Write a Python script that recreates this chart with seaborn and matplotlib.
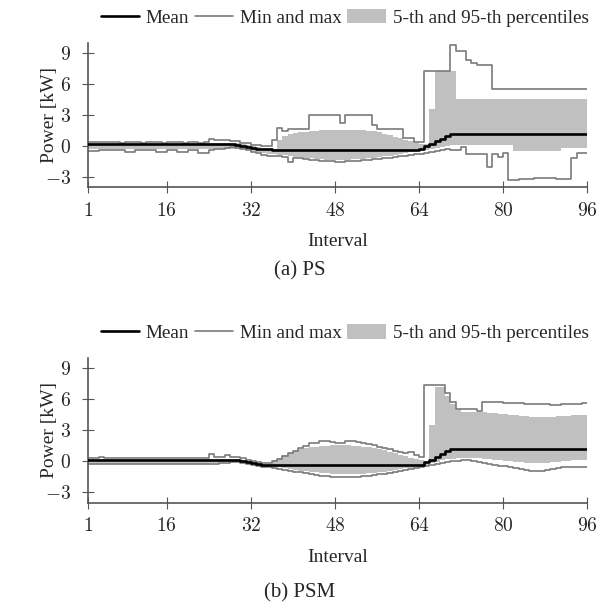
import numpy as np
import matplotlib
matplotlib.use("Agg")
import matplotlib.pyplot as plt
from matplotlib.ticker import FuncFormatter
import seaborn as sns

# --------------------------------------------------
# DATA (interval 1..96)
# --------------------------------------------------

intervals = np.arange(1, 97)

# (a) PS
ps_mean = (
    [0.15] * 28
    + [0.10, 0.02, -0.08, -0.17, -0.25, -0.30, -0.33]
    + [-0.35] * 28
    + [-0.30, -0.05, 0.20, 0.45, 0.70, 0.95, 1.15]
    + [1.20] * 26
)
ps_max = (
    [0.35, 0.40, 0.40, 0.35, 0.35, 0.35, 0.30, 0.35, 0.35, 0.35, 0.30, 0.35,
     0.35, 0.35, 0.30, 0.35, 0.35, 0.35, 0.30, 0.35, 0.35, 0.30, 0.35]
    + [0.70, 0.55, 0.55, 0.62, 0.45, 0.45, 0.30, 0.25, 0.10, 0.05, -0.05, -0.05]
    + [0.55, 1.75, 1.45, 1.60, 1.60, 1.60, 1.60]
    + [3.00] * 6 + [2.25] + [2.95] * 5 + [2.05] + [1.60] * 5
    + [0.75, 0.75, 0.40, 0.40]
    + [7.30] * 5
    + [9.80, 9.20, 9.20, 8.30, 8.00, 7.80, 7.80, 7.80]
    + [5.50] * 19
)
ps_min = (
    [-0.45, -0.45, -0.40, -0.40, -0.40, -0.40, -0.40, -0.55, -0.55, -0.40,
     -0.40, -0.40, -0.40, -0.60, -0.60, -0.40, -0.40, -0.55, -0.55, -0.40,
     -0.40, -0.65, -0.65]
    + [-0.35, -0.30, -0.25, -0.20, -0.15, -0.20, -0.30, -0.40, -0.55, -0.70,
       -0.85, -0.95]
    + [-0.95, -1.00, -1.05, -1.55, -1.15, -1.20, -1.30, -1.35, -1.40, -1.45,
       -1.50, -1.50, -1.55, -1.55, -1.50, -1.50, -1.45, -1.40, -1.35, -1.30,
       -1.25, -1.20, -1.15, -1.10, -1.00, -0.95, -0.90, -0.80, -0.75, -0.70,
       -0.60, -0.50, -0.40, -0.30, -0.35, -0.35, -0.10]
    + [-0.80, -0.80, -0.80, -0.80, -2.00, -0.75, -1.05, -0.70]
    + [-3.30, -3.30, -3.25, -3.20, -3.20, -3.15, -3.10, -3.10, -3.15, -3.20,
       -3.20, -3.25, -1.20, -0.65, -0.65, -0.65]
)
ps_p95 = (
    [0.30] * 28
    + [0.25, 0.15, 0.05, -0.05, -0.12, -0.18, -0.22, -0.25]
    + [0.55, 1.00, 1.15, 1.25, 1.30, 1.35, 1.40, 1.45, 1.50, 1.50,
       1.50, 1.50, 1.50, 1.55, 1.55, 1.55, 1.50, 1.45, 1.40, 1.30,
       1.20, 1.05, 0.90, 0.75, 0.60, 0.45, 0.30, 0.15, 0.20, 3.60]
    + [7.30] * 4
    + [4.50] * 26
)
ps_p5 = (
    [-0.25] * 28
    + [-0.20, -0.25, -0.35, -0.45, -0.55, -0.65, -0.75, -0.80, -0.85, -0.90,
       -1.00, -1.05, -1.10, -1.15, -1.20, -1.25, -1.30, -1.35, -1.35, -1.35,
       -1.35, -1.35, -1.30, -1.30, -1.25, -1.20, -1.15, -1.10, -1.00, -0.95,
       -0.90, -0.80, -0.70, -0.60, -0.50, -0.45, -0.40, -0.30, -0.20, -0.10,
       0.00, 0.05]
    + [0.10] * 11
    + [-0.45] * 9
    + [-0.20] * 6
)

# (b) PSM
psm_mean = (
    [0.13] * 28
    + [0.08, 0.00, -0.10, -0.20, -0.28, -0.34, -0.38]
    + [-0.40] * 28
    + [-0.35, -0.10, 0.15, 0.45, 0.70, 0.95, 1.15]
    + [1.20] * 26
)
psm_max = (
    [0.30, 0.35, 0.38, 0.35] + [0.30] * 19
    + [0.68, 0.45, 0.45, 0.58, 0.40, 0.40, 0.30, 0.15, 0.00, -0.10, -0.15, -0.15]
    + [0.00, 0.20, 0.50, 0.77, 1.03, 1.32, 1.50, 1.80, 1.80, 1.97,
       1.97, 1.85, 1.80, 1.80, 2.00, 2.00, 1.90, 1.75, 1.65, 1.55,
       1.40, 1.26, 1.15, 1.00, 0.85, 0.77, 0.87, 0.60, 0.45]
    + [7.40] * 4
    + [6.60, 5.70, 5.10, 5.10, 5.10, 5.10, 4.90]
    + [5.75, 5.75, 5.70, 5.70, 5.65, 5.65, 5.60, 5.60, 5.55, 5.55,
       5.50, 5.50, 5.50, 5.45, 5.45, 5.50, 5.50, 5.55, 5.55, 5.60, 5.60]
)
psm_min = (
    [-0.30] * 23
    + [-0.28, -0.25, -0.20, -0.15, -0.10, -0.10, -0.15, -0.25, -0.35, -0.45,
       -0.55, -0.60]
    + [-0.70, -0.78, -0.85, -0.90, -1.00, -1.08, -1.15, -1.22, -1.30, -1.40,
       -1.45, -1.50, -1.55, -1.55, -1.55, -1.50, -1.48, -1.45, -1.40, -1.35,
       -1.28, -1.22, -1.10, -1.00, -0.92, -0.84, -0.75, -0.65, -0.55, -0.45,
       -0.35, -0.25, -0.15, -0.05, 0.00, 0.05, 0.10, 0.10, 0.05, -0.05,
       -0.15, -0.25, -0.35, -0.45, -0.50, -0.55, -0.65, -0.75, -0.85, -0.90,
       -0.95, -0.90, -0.85, -0.80, -0.70, -0.60, -0.55, -0.52, -0.52, -0.52,
       -0.52]
)
psm_p95 = (
    [0.23] * 28
    + [0.20, 0.10, 0.00, -0.10, -0.20, -0.25, -0.30]
    + [0.13, 0.35, 0.60, 0.82, 1.03, 1.18, 1.30, 1.38, 1.42, 1.48,
       1.52, 1.55, 1.58, 1.58, 1.55, 1.52, 1.48, 1.42, 1.35, 1.25,
       1.15, 1.05, 0.90, 0.75, 0.60, 0.50, 0.35, 0.20, 0.10, 0.05, 3.50]
    + [7.20, 7.20, 6.30, 5.50, 5.00, 4.80, 4.80, 4.80, 4.75, 4.75,
       4.70, 4.65, 4.60, 4.55, 4.50, 4.45, 4.40, 4.35, 4.30, 4.25,
       4.25, 4.30, 4.30, 4.35, 4.40, 4.40, 4.45, 4.50, 4.50, 4.50]
)
psm_p5 = (
    [-0.23] * 23
    + [-0.20, -0.15, -0.10, -0.05, 0.00]
    + [-0.05, -0.10, -0.20, -0.30, -0.38, -0.45, -0.50]
    + [-0.52, -0.60, -0.68, -0.75, -0.82, -0.90, -0.97, -1.03, -1.08, -1.13,
       -1.18, -1.22, -1.25, -1.26, -1.26, -1.25, -1.23, -1.20, -1.15, -1.10,
       -1.05, -1.00, -0.92, -0.85, -0.75, -0.68, -0.62, -0.55, -0.50, -0.35,
       -0.20, -0.05, 0.10, 0.20, 0.25, 0.30, 0.30, 0.35, 0.35, 0.30,
       0.25, 0.20, 0.15, 0.10, 0.05, 0.00, -0.05, -0.10, -0.15, -0.20,
       -0.20, -0.20, -0.15, -0.10, -0.05, 0.00, 0.05, 0.10, 0.10, 0.10,
       0.10]
)

x_ticks = [1, 16, 32, 48, 64, 80, 96]
y_ticks = [-3, 0, 3, 6, 9]

# --------------------------------------------------
# STYLE
# --------------------------------------------------

sns.set_style("ticks")
plt.rcParams["font.family"] = ["Liberation Serif", "DejaVu Serif"]
plt.rcParams["mathtext.fontset"] = "cm"

axis_col = "#555555"
band_col = "#c0c0c0"
line_col = "#7a7a7a"

fig = plt.figure(figsize=(5.99, 6.04), dpi=100)

panels = [
    ([0.147, 0.690, 0.833, 0.2394], ps_mean, ps_min, ps_max, ps_p5, ps_p95,
     "(a) PS", 0.552),
    ([0.147, 0.168, 0.833, 0.2394], psm_mean, psm_min, psm_max, psm_p5,
     psm_p95, "(b) PSM", 0.0185),
]

for rect, mean, mn, mx, p5, p95, caption, cap_y in panels:
    ax = fig.add_axes(rect)

    ax.fill_between(intervals, p5, p95, step="post", color=band_col,
                    linewidth=0, label="5-th and 95-th percentiles", zorder=1)

    sns.lineplot(x=intervals, y=mx, ax=ax, color=line_col, lw=1.2,
                 drawstyle="steps-post", label="Min and max", zorder=2)
    sns.lineplot(x=intervals, y=mn, ax=ax, color=line_col, lw=1.2,
                 drawstyle="steps-post", zorder=2)
    sns.lineplot(x=intervals, y=mean, ax=ax, color="black", lw=1.9,
                 drawstyle="steps-post", label="Mean", zorder=3)

    ax.set_xlim(1, 96)
    ax.set_ylim(-4, 10)
    ax.set_xticks(x_ticks)
    ax.set_yticks(y_ticks)
    ax.xaxis.set_major_formatter(FuncFormatter(lambda v, p: rf"${v:g}$"))
    ax.yaxis.set_major_formatter(FuncFormatter(lambda v, p: rf"${v:g}$"))

    sns.despine(ax=ax)
    for side in ["left", "bottom"]:
        ax.spines[side].set_color(axis_col)
        ax.spines[side].set_linewidth(1.2)

    ax.tick_params(direction="inout", length=9, width=0.8, color=axis_col,
                   labelsize=14)
    ax.tick_params(axis="x", pad=6)
    ax.tick_params(axis="y", pad=8)

    ax.set_xlabel("Interval", fontsize=14)
    ax.set_ylabel("Power [kW]", fontsize=14)
    ax.xaxis.set_label_coords(0.5, -0.318)
    ax.yaxis.set_label_coords(-0.06, 0.5)

    handles, labels = ax.get_legend_handles_labels()
    order = ["Mean", "Min and max", "5-th and 95-th percentiles"]
    hmap = dict(zip(labels, handles))
    ax.legend([hmap[k] for k in order], order, loc="center right",
              bbox_to_anchor=(1.003, 1.17), ncol=3, frameon=False,
              fontsize=13.8, borderaxespad=0, borderpad=0,
              handlelength=2.0, handleheight=0.75, handletextpad=0.35,
              columnspacing=0.3)

    fig.text(0.5, cap_y, caption, ha="center", va="center", fontsize=15)

fig.savefig("out.png", dpi=100)
plt.close(fig)
